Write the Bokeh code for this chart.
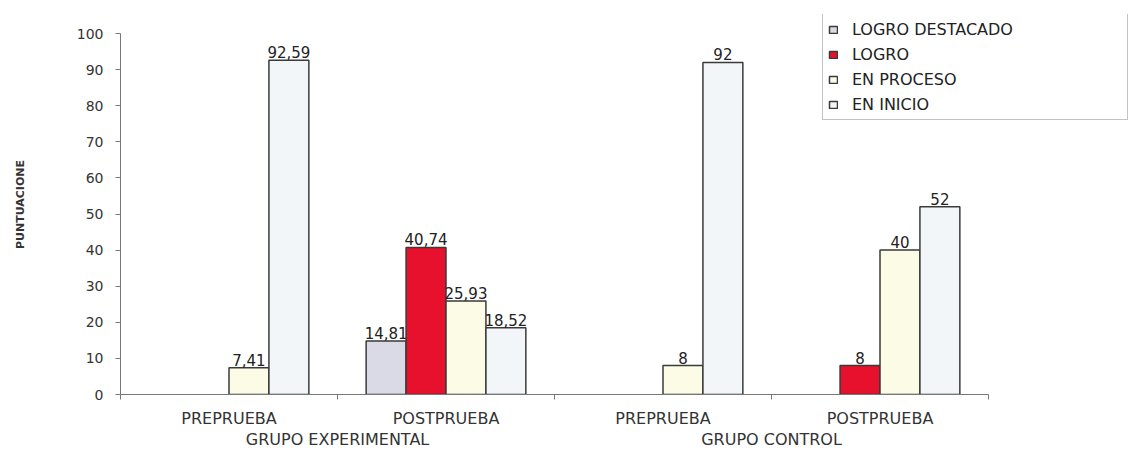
from bokeh.plotting import figure
from bokeh.models import (ColumnDataSource, FixedTicker, LinearAxis, Legend,
                          LegendItem, Range1d)
from bokeh.core.properties import value
from bokeh.transform import dodge
from bokeh.embed import file_html
from bokeh.resources import INLINE

# Data
groups = ["GRUPO EXPERIMENTAL", "GRUPO CONTROL"]
stages = ["PREPRUEBA", "POSTPRUEBA", "PREPRUEBA", "POSTPRUEBA"]
levels = ["LOGRO DESTACADO", "LOGRO", "EN PROCESO", "EN INICIO"]

logro_destacado = [0, 14.81, 0, 0]
logro = [0, 40.74, 0, 8]
en_proceso = [7.41, 25.93, 8, 40]
en_inicio = [92.59, 18.52, 92, 52]

y_ticks = [0, 10, 20, 30, 40, 50, 60, 70, 80, 90, 100]

series = [logro_destacado, logro, en_proceso, en_inicio]
colors = ["#dadae6", "#e8112d", "#fbfbe6", "#f2f6f8"]

FONT = "DejaVu Sans"
BAR_W = 0.184

# Layout: the plotting frame fills the page to the right so the legend
# can sit in the upper right corner; axes are bounded to the data span.
LEFT, TOP, FRAME_W, FRAME_H = 120, 14, 1010, 380
AXIS_PX = 868          # pixel length of the category axis
TOP_PAD_PX = 19        # space between the frame top and the 100 tick
n = len(stages)
y_max = y_ticks[-1] * FRAME_H / (FRAME_H - TOP_PAD_PX)

p = figure(frame_width=FRAME_W, frame_height=FRAME_H,
           x_range=Range1d(0, n * FRAME_W / AXIS_PX), y_range=Range1d(0, y_max),
           x_axis_type=None, y_axis_type=None,
           output_backend="svg", toolbar_location=None,
           min_border_left=LEFT, min_border_right=0,
           min_border_top=TOP, min_border_bottom=56)
p.outline_line_color = None
p.xgrid.visible = False
p.ygrid.visible = False
p.background_fill_color = "white"

centers = [i + 0.5 for i in range(n)]

legend_items = []
for k, (name, vals, col) in enumerate(zip(levels, series, colors)):
    xs = [c for c, v in zip(centers, vals) if v > 0]
    ys = [v for v in vals if v > 0]
    labels = [f"{v:g}".replace(".", ",") for v in ys]
    src = ColumnDataSource(dict(x=xs, y=ys, label=labels))
    off = (k - 1.5) * BAR_W
    r = p.vbar(x=dodge("x", off, range=p.x_range), top="y", width=BAR_W,
               source=src, fill_color=col, line_color="#3a3a3a", line_width=1.5)
    p.text(x=dodge("x", off, range=p.x_range), y="y", text="label", source=src,
           text_align="center", text_baseline="bottom", y_offset=-2,
           text_font=value(FONT), text_font_size="15px", text_color="#222222")
    legend_items.append(LegendItem(label=name, renderers=[r]))

legend = Legend(items=legend_items, location=(702, FRAME_H - 106),
                orientation="vertical",
                label_text_font=FONT, label_text_font_size="16px",
                label_text_color="#222222", label_width=270,
                glyph_width=10, glyph_height=9, label_height=20,
                label_standoff=14, spacing=5, padding=5, margin=0,
                border_line_color="#888888", border_line_width=1,
                background_fill_color="white", background_fill_alpha=1)
p.add_layout(legend, "center")

# Y axis
y_axis = LinearAxis(ticker=FixedTicker(ticks=y_ticks), bounds=(0, y_ticks[-1]))
y_axis.axis_line_color = "#777777"
y_axis.major_tick_line_color = "#777777"
y_axis.major_tick_out = 5
y_axis.major_tick_in = 0
y_axis.minor_tick_line_color = None
y_axis.major_label_text_font = FONT
y_axis.major_label_text_font_size = "14px"
y_axis.major_label_text_color = "#333333"
y_axis.major_label_standoff = 12
y_axis.axis_label = "PUNTUACIONE"
y_axis.axis_label_text_font = FONT
y_axis.axis_label_text_font_size = "11px"
y_axis.axis_label_text_font_style = "bold"
y_axis.axis_label_text_color = "#333333"
y_axis.axis_label_standoff = 47
p.add_layout(y_axis, "left")

# X axis: stage labels, ticks on group boundaries
x_axis = LinearAxis(ticker=FixedTicker(ticks=centers,
                                       minor_ticks=list(range(n + 1))),
                    bounds=(0, n))
x_axis.major_label_overrides = {c: s for c, s in zip(centers, stages)}
x_axis.axis_line_color = "#777777"
x_axis.major_tick_line_color = None
x_axis.minor_tick_line_color = "#777777"
x_axis.minor_tick_out = 5
x_axis.minor_tick_in = 0
x_axis.major_label_text_font = FONT
x_axis.major_label_text_font_size = "16px"
x_axis.major_label_text_color = "#333333"
x_axis.major_label_standoff = 8
p.add_layout(x_axis, "below")

# Group labels underneath
group_centers = [2 * i + 1 for i in range(len(groups))]
g_axis = LinearAxis(ticker=FixedTicker(ticks=group_centers, minor_ticks=[]))
g_axis.major_label_overrides = {c: g for c, g in zip(group_centers, groups)}
g_axis.axis_line_color = None
g_axis.major_tick_line_color = None
g_axis.minor_tick_line_color = None
g_axis.major_label_text_font = FONT
g_axis.major_label_text_font_size = "16px"
g_axis.major_label_text_color = "#333333"
g_axis.major_label_standoff = -7
p.add_layout(g_axis, "below")

open("out.html", "w").write(file_html(p, INLINE))
